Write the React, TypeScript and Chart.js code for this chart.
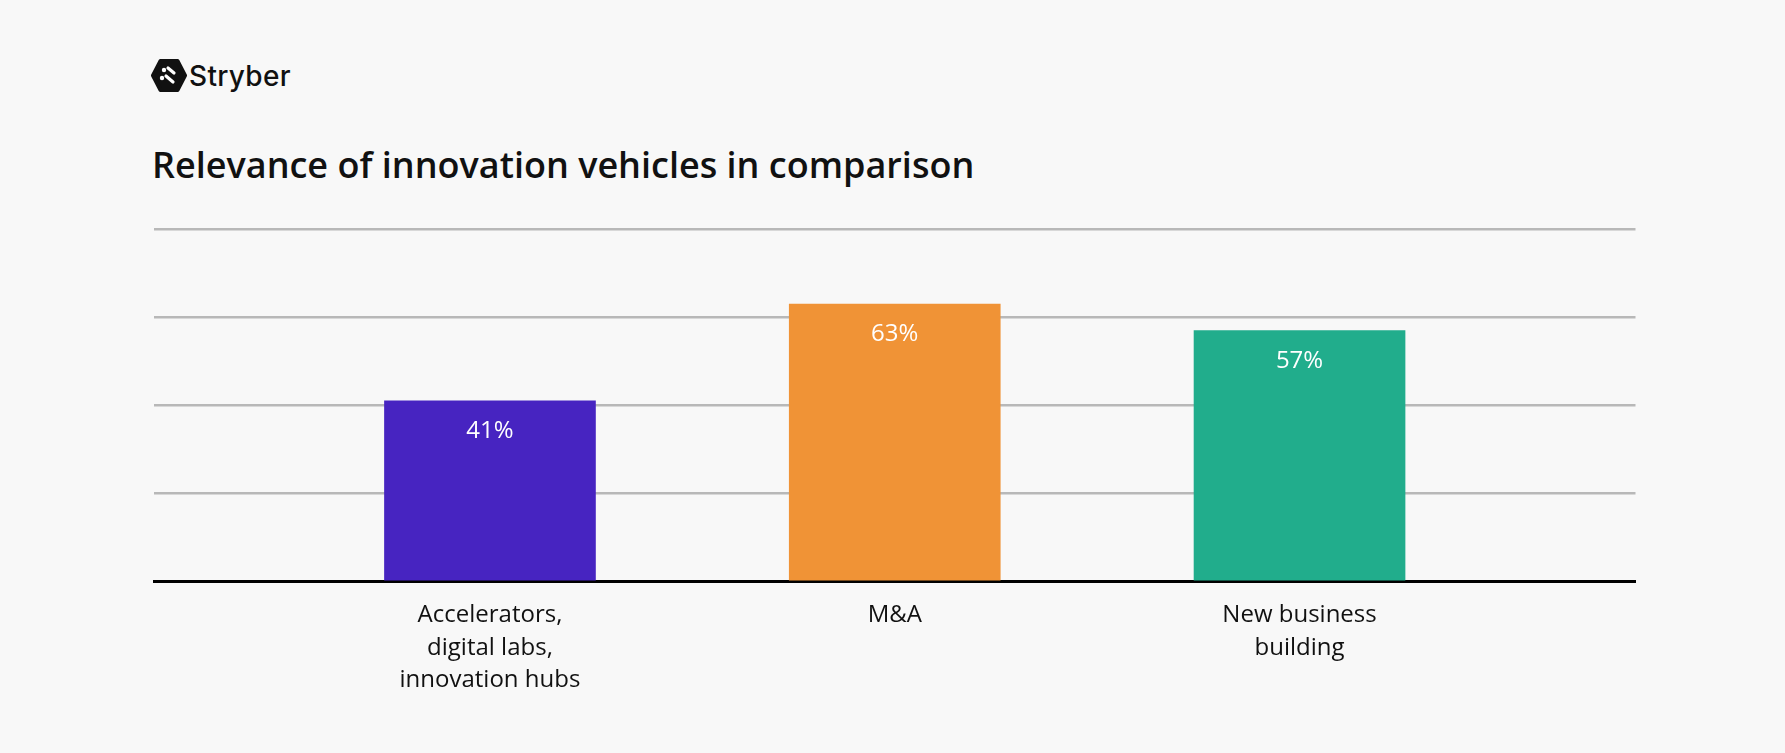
import React, { useEffect, useRef } from "react";
import { Chart, registerables } from "chart.js";

Chart.register(...registerables);

// ---- data ----
const categories = ["Accelerators, digital labs, innovation hubs", "M&A", "New business building"];
const tickLabelLines = [["Accelerators,", "digital labs,", "innovation hubs"], ["M&A"], ["New business", "building"]];
const categoryPositions = [1, 2, 3];
const values = [41, 63, 57];
const valueLabels = values.map((v) => `${v}%`);
const barColors = ["#4724c1", "#f09336", "#21ad8c"];
const yMin = 0;
const yMax = 80;
const yStep = 20;

const title = "Relevance of innovation vehicles in comparison";
const brand = "Stryber";

const BG = "#f8f8f8";

const valueLabelPlugin = {
  id: "valueLabels",
  afterDatasetsDraw(chart: any) {
    const ctx = chart.ctx;
    const meta = chart.getDatasetMeta(0);
    ctx.save();
    ctx.fillStyle = "#ffffff";
    ctx.font = "400 24px 'Open Sans'";
    ctx.textAlign = "center";
    ctx.textBaseline = "alphabetic";
    meta.data.forEach((bar: any, i: number) => {
      ctx.fillText(valueLabels[i], bar.x, bar.y + 37);
    });
    ctx.restore();
  },
};

function BarChart() {
  const ref = useRef<HTMLCanvasElement | null>(null);
  useEffect(() => {
    if (!ref.current) return;
    const chart = new Chart(ref.current, {
      type: "bar",
      data: {
        datasets: [
          {
            label: "Relevance",
            data: categoryPositions.map((x, i) => ({ x, y: values[i] })),
            backgroundColor: barColors,
            borderWidth: 0,
            barThickness: 211,
          },
        ],
      },
      options: {
        animation: false,
        responsive: false,
        maintainAspectRatio: false,
        devicePixelRatio: 1,
        layout: { padding: { left: 154, right: 149.5, top: 229.3, bottom: 38.5 } },
        plugins: {
          legend: { display: false },
          tooltip: { enabled: false },
          title: { display: false },
        },
        scales: {
          x: {
            type: "linear",
            position: "bottom",
            offset: false,
            min: 0.17,
            max: 3.83,
            afterBuildTicks: (scale: any) => {
              scale.ticks = categoryPositions.map((v) => ({ value: v }));
            },
            grid: { display: false, drawTicks: false },
            border: { display: true, color: "#000000", width: 3 },
            ticks: {
              autoSkip: false,
              maxRotation: 0,
              minRotation: 0,
              padding: 18,
              color: "#111111",
              font: { family: "'Open Sans'", size: 24, weight: "400", lineHeight: 1.35 },
              callback: (v: any) => {
                const idx = categoryPositions.indexOf(Number(v));
                return idx >= 0 ? tickLabelLines[idx] : "";
              },
            },
          },
          y: {
            min: yMin,
            max: yMax,
            ticks: { display: false, stepSize: yStep },
            border: { display: false },
            grid: {
              drawTicks: false,
              lineWidth: 2.5,
              color: (c: any) => (c.tick && c.tick.value === 0 ? "rgba(0,0,0,0)" : "#b8b8b8"),
            },
          },
        },
      },
      plugins: [valueLabelPlugin],
    });
    return () => chart.destroy();
  }, []);
  return (
    <canvas
      ref={ref}
      width={1785}
      height={753}
      style={{ position: "absolute", left: 0, top: 0, width: 1785, height: 753 }}
      aria-label={categories.join(", ")}
    />
  );
}

function Logo() {
  return (
    <div style={{ position: "absolute", left: 151, top: 59 }}>
      <svg width={36} height={33} viewBox="0 0 36 33" style={{ position: "absolute", left: 0, top: 0 }}>
        <polygon
          points="2,16.5 9.5,2 26.5,2 34,16.5 26.5,31 9.5,31"
          fill="#111"
          stroke="#111"
          strokeWidth={4}
          strokeLinejoin="round"
        />
        <circle cx={13} cy={11} r={2.2} fill="#fff" />
        <circle cx={11} cy={19} r={2.2} fill="#fff" />
        <line x1={17} y1={9} x2={23} y2={14} stroke="#fff" strokeWidth={3.2} strokeLinecap="round" />
        <line x1={15} y1={17} x2={22} y2={23} stroke="#fff" strokeWidth={3.2} strokeLinecap="round" />
      </svg>
      <div
        style={{
          position: "absolute",
          left: 38,
          top: 3,
          fontFamily: "Inter, 'Open Sans', sans-serif",
          fontWeight: 500,
          fontSize: 28,
          lineHeight: "28px",
          letterSpacing: "0.3px",
          color: "#111",
          whiteSpace: "nowrap",
        }}
      >
        {brand}
      </div>
    </div>
  );
}

export default function App() {
  useEffect(() => {
    document.body.style.margin = "0";
    document.body.style.background = BG;
  }, []);
  return (
    <div style={{ position: "absolute", left: 0, top: 0, width: 1785, height: 753, background: BG, overflow: "hidden" }}>
      <Logo />
      <div
        style={{
          position: "absolute",
          left: 152,
          top: 147,
          fontFamily: "'Open Sans', sans-serif",
          fontWeight: 600,
          fontSize: 36,
          lineHeight: "36px",
          color: "#111",
          whiteSpace: "nowrap",
        }}
      >
        {title}
      </div>
      <BarChart />
    </div>
  );
}
